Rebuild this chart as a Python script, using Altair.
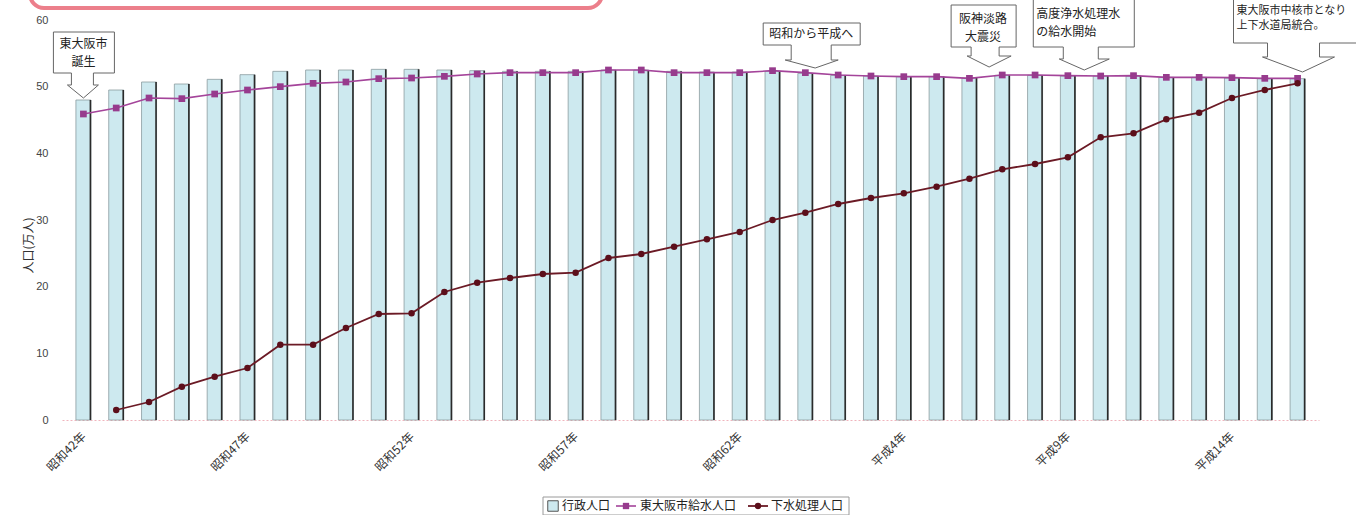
import altair as alt
import pandas as pd

# ---------------- data ----------------
years = ([f"昭和{n}年" for n in range(42, 64)] + ["平成元年"] +
         [f"平成{n}年" for n in range(2, 17)])
tick_idx = [0, 5, 10, 15, 20, 25, 30, 35]

admin_pop = [48.0, 49.5, 50.7, 50.4, 51.1, 51.8, 52.3, 52.5, 52.5, 52.6,
             52.6, 52.5, 52.4, 52.3, 52.3, 52.3, 52.5, 52.5, 52.3, 52.2,
             52.2, 52.3, 52.0, 51.7, 51.6, 51.5, 51.5, 51.3, 51.7, 51.7,
             51.6, 51.6, 51.6, 51.4, 51.4, 51.3, 51.2, 51.2]
water_pop = [45.9, 46.8, 48.3, 48.2, 48.9, 49.5, 50.0, 50.5, 50.7, 51.2,
             51.3, 51.55, 51.9, 52.1, 52.1, 52.1, 52.5, 52.5, 52.1, 52.1,
             52.1, 52.4, 52.1, 51.75, 51.6, 51.5, 51.5, 51.25, 51.75, 51.75,
             51.65, 51.6, 51.65, 51.4, 51.4, 51.35, 51.25, 51.25]
sewer_pop = [None, 1.5, 2.7, 5.0, 6.5, 7.8, 11.3, 11.3, 13.8, 15.9,
             16.0, 19.2, 20.6, 21.3, 21.9, 22.1, 24.3, 24.9, 26.0, 27.1,
             28.2, 30.0, 31.1, 32.4, 33.3, 34.0, 35.0, 36.2, 37.6, 38.4,
             39.4, 42.4, 43.0, 45.1, 46.1, 48.3, 49.5, 50.5]

series_names = ["行政人口", "東大阪市給水人口", "下水処理人口"]

# callouts: text, x position (year index), y value of arrow tip
callout_text = ["東大阪市\n誕生", "昭和から平成へ", "阪神淡路\n大震災",
                "高度浄水処理水\nの給水開始", "東大阪市中核市となり\n上下水道局統合。"]
callout_x = [0.0, 22.3, 27.6, 30.5, 37.15]
callout_y = [48.3, 52.8, 52.95, 52.5, 52.2]

# ---------------- styling ----------------
FONT = "Noto Sans CJK JP"
BAR_FILL = "#cde9ef"
PURPLE = "#a4449a"
PURPLE_PT = "#973b8d"
DARKRED = "#6b1a25"
DARKRED_PT = "#5c0f1b"

# callout geometry (pixels relative to arrow tip):
# box_l, box_r, box_t, box_b, stem_l, stem_r, head_l, head_r, head_y,
# text dx, first-line dy, line height, font size, align
callout_geom = [
    (-30, 31, -66, -25, -12, 10, -16, 15, -13, 0, -54, 18, 12, "center"),
    (-52, 45, -45, -23, -24, 16, -30, 23, -8, -4, -34, 18, 12, "center"),
    (-38, 27, -62, -20, -18, 10, -22, 22, -11, -6, -48, 18, 12, "center"),
    (-51, 50, -71, -23, -21, 14, -25, 25, -11, -48, -56, 18, 12, "left"),
    (-69, 92, -80, -29, -35, 17, -40, 32, -15, -66, -61, 15, 11, "left"),
]


def callout_path(bl, br, bt, bb, sl, sr, hl, hr, hy):
    return (f"M0,0L{hl},{hy}L{sl},{hy}L{sl},{bb}L{bl},{bb}L{bl},{bt}"
            f"L{br},{bt}L{br},{bb}L{sr},{bb}L{sr},{hy}L{hr},{hy}Z")


df = pd.DataFrame({
    "idx": list(range(len(years))),
    "year": years,
    "admin": admin_pop,
    "water": water_pop,
    "sewer": sewer_pop,
})
df_sewer = df[df["sewer"].notna()]

label_expr = "[" + ",".join(f"'{y}'" for y in years) + "][datum.value]"

xscale = alt.Scale(domain=[-0.5, len(years) - 0.5], nice=False, zero=False)
yscale = alt.Scale(domain=[0, 60], nice=False)

x_axis = alt.Axis(values=tick_idx, labelExpr=label_expr, labelAngle=-45,
                  labelAlign="right", labelBaseline="middle", labelPadding=14,
                  labelFlush=False, ticks=False, grid=False, title=None,
                  labelFont=FONT, labelFontSize=12, labelColor="#333",
                  domainColor="#f0b4bd", domainDash=[2, 2], domainWidth=1)
y_axis = alt.Axis(values=[0, 10, 20, 30, 40, 50, 60], ticks=False, domain=False,
                  grid=False, labelPadding=14, labelFont="Liberation Sans",
                  labelFontSize=11, labelColor="#444",
                  title="人口(万人)", titleFont=FONT, titleFontSize=12,
                  titleFontWeight="normal", titleColor="#333",
                  titleX=-34, titleY=225, titleAngle=270,
                  titleAlign="center", titleBaseline="middle")


def X(field):
    return alt.X(field, type="quantitative", scale=xscale, axis=x_axis)


def Y(field):
    return alt.Y(field, type="quantitative", scale=yscale, axis=y_axis)


base = alt.Chart(df)

bars = base.mark_bar(size=15, fill=BAR_FILL, stroke="#8c9ca0",
                     strokeWidth=0.8).encode(
    x=X("idx"), y=Y("admin"), y2=alt.datum(0))
bar_edge = base.mark_rule(xOffset=7, color="#2a2a2a", strokeWidth=1.6).encode(
    x=X("idx"), y=Y("admin"), y2=alt.datum(0))

water_line = base.mark_line(color=PURPLE, strokeWidth=1.6).encode(
    x=X("idx"), y=Y("water"))
water_pts = base.mark_point(shape="square", filled=True, size=45, opacity=1,
                            color=PURPLE_PT).encode(x=X("idx"), y=Y("water"))

sewer_base = alt.Chart(df_sewer)
sewer_line = sewer_base.mark_line(color=DARKRED, strokeWidth=1.8).encode(
    x=X("idx"), y=Y("sewer"))
sewer_pts = sewer_base.mark_point(shape="circle", filled=True, size=42,
                                  opacity=1, color=DARKRED_PT).encode(
    x=X("idx"), y=Y("sewer"))

layers = [bars, bar_edge, water_line, water_pts, sewer_line, sewer_pts]

# callouts
for txt, cx, cy, g in zip(callout_text, callout_x, callout_y, callout_geom):
    bl, br, bt, bb, sl, sr, hl, hr, hy, tdx, tdy, lh, fs, al = g
    cdf = pd.DataFrame({"cx": [cx], "cy": [cy], "label": [txt]})
    shape = callout_path(bl, br, bt, bb, sl, sr, hl, hr, hy)
    box = alt.Chart(cdf).mark_point(shape=shape, size=4, filled=True,
                                    fill="white", stroke="#666",
                                    strokeWidth=1, opacity=1).encode(
        x=X("cx"), y=Y("cy"))
    text = alt.Chart(cdf).mark_text(align=al, baseline="middle", dx=tdx,
                                    dy=tdy, lineBreak="\n", lineHeight=lh,
                                    font=FONT, fontSize=fs,
                                    color="#222").encode(
        x=X("cx"), y=Y("cy"), text="label:N")
    layers += [box, text]

# page decoration (pink banner edge at the top)
one = pd.DataFrame({"a": [0]})
banner = alt.Chart(one).mark_rect(fill="white", stroke="#ec7f8b",
                                  strokeWidth=4, cornerRadius=14).encode(
    x=alt.value(-32), x2=alt.value(540), y=alt.value(-70), y2=alt.value(-12))
layers.append(banner)

# legend (drawn by hand to mimic the combined symbols)
LY = 486
leg_box = alt.Chart(one).mark_rect(fill="white", stroke="#9a9a9a",
                                   strokeWidth=1).encode(
    x=alt.value(481), x2=alt.value(787), y=alt.value(LY - 9), y2=alt.value(LY + 9))
leg_sq = alt.Chart(one).mark_point(shape="square", size=110, filled=True,
                                   fill=BAR_FILL, stroke="#555", strokeWidth=1,
                                   opacity=1).encode(
    x=alt.value(491), y=alt.value(LY))
leg_l1 = alt.Chart(one).mark_rule(color=PURPLE, strokeWidth=1.6).encode(
    x=alt.value(554), x2=alt.value(574), y=alt.value(LY))
leg_p1 = alt.Chart(one).mark_point(shape="square", size=40, filled=True,
                                   color=PURPLE_PT, opacity=1).encode(
    x=alt.value(564), y=alt.value(LY))
leg_l2 = alt.Chart(one).mark_rule(color=DARKRED, strokeWidth=1.8).encode(
    x=alt.value(686), x2=alt.value(706), y=alt.value(LY))
leg_p2 = alt.Chart(one).mark_point(shape="circle", size=40, filled=True,
                                   color=DARKRED_PT, opacity=1).encode(
    x=alt.value(696), y=alt.value(LY))
leg_texts = []
for name, lx in zip(series_names, [500, 578, 709]):
    leg_texts.append(alt.Chart(pd.DataFrame({"t": [name]})).mark_text(
        align="left", baseline="middle", font=FONT, fontSize=12,
        color="#222").encode(x=alt.value(lx), y=alt.value(LY), text="t:N"))

layers += [leg_box, leg_sq, leg_l1, leg_p1, leg_l2, leg_p2] + leg_texts

chart = alt.layer(*layers).properties(
    width=1257, height=400,
    padding={"left": 62, "top": 20, "right": 37, "bottom": 95},
    autosize=alt.AutoSizeParams(type="none"),
    background="white",
).configure_view(stroke=None)

chart.save("out.html", embed_options={"renderer": "svg", "actions": False})
